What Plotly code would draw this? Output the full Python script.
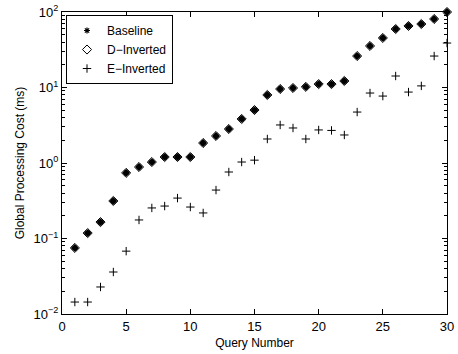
import plotly.graph_objects as go

query = list(range(1, 31))
baseline = [0.075, 0.118, 0.165, 0.314, 0.74, 0.885, 1.03, 1.2, 1.2, 1.2,
            1.84, 2.28, 2.82, 3.83, 5.03, 7.96, 9.55, 9.85, 10.2, 11.1,
            11.1, 12.2, 26.1, 35.5, 45.3, 59.5, 65.3, 69.3, 80.8, 100.0]
d_inverted = [0.075, 0.118, 0.165, 0.314, 0.74, 0.885, 1.03, 1.2, 1.2, 1.2,
              1.84, 2.28, 2.82, 3.83, 5.03, 7.96, 9.55, 9.85, 10.2, 11.1,
              11.1, 12.2, 26.1, 35.5, 45.3, 59.5, 65.3, 69.3, 80.8, 100.0]
e_inverted = [0.0144, 0.0144, 0.0228, 0.036, 0.068, 0.176, 0.254, 0.269, 0.343, 0.261,
              0.218, 0.438, 0.76, 1.03, 1.09, 2.08, 3.19, 2.91, 2.08, 2.74,
              2.7, 2.35, 4.73, 8.45, 7.7, 14.2, 8.7, 10.5, 26.1, 38.8]

ytick_vals = [0.01, 0.1, 1, 10, 100]
ytick_text = ["10<sup>−2</sup>", "10<sup>−1</sup>", "10<sup>0</sup>", "10<sup>1</sup>", "10<sup>2</sup>"]
xtick_vals = [0, 5, 10, 15, 20, 25, 30]
minor_decades = [0.01, 0.1, 1, 10]
minor_digits = [2, 3, 4, 5, 6, 7, 8, 9]
yminor_vals = [d * m for d in minor_decades for m in minor_digits]

fnt = "Liberation Sans, Arial, sans-serif"

fig = go.Figure()
fig.add_trace(go.Scatter(
    x=query, y=baseline, mode="markers", name="Baseline", cliponaxis=False,
    marker=dict(symbol="asterisk", size=5, color="black", line=dict(color="black", width=1.2))))
fig.add_trace(go.Scatter(
    x=query, y=d_inverted, mode="markers", name="D−Inverted", cliponaxis=False,
    marker=dict(symbol="diamond-open", size=7, color="black", line=dict(color="black", width=1))))
fig.add_trace(go.Scatter(
    x=query, y=d_inverted, mode="markers", showlegend=False, hoverinfo="skip", cliponaxis=False,
    marker=dict(symbol="diamond", size=6, color="black", line=dict(width=0))))
fig.add_trace(go.Scatter(
    x=query, y=e_inverted, mode="markers", name="E−Inverted", cliponaxis=False,
    marker=dict(symbol="cross-thin", size=6, color="black", line=dict(color="black", width=1))))

axis_common = dict(showline=True, linecolor="black", linewidth=1, mirror="ticks",
                   ticks="inside", tickcolor="black", ticklen=5, tickwidth=1, showgrid=False, zeroline=False,
                   automargin=False,
                   tickfont=dict(family=fnt, size=13, color="black"))

fig.update_xaxes(range=[0, 30], tickvals=xtick_vals,
                 title=dict(text="Query Number", standoff=6,
                            font=dict(family=fnt, size=12, color="black")),
                 **axis_common)
fig.update_yaxes(type="log", range=[-2, 2], tickvals=ytick_vals, ticktext=ytick_text,
                 minor=dict(ticks="inside", ticklen=3, tickcolor="black", tickwidth=1,
                            tickvals=yminor_vals, showgrid=False),
                 title=dict(text="Global Processing Cost (ms)", standoff=6,
                            font=dict(family=fnt, size=12, color="black")),
                 **axis_common)

fig.update_layout(
    width=458, height=354,
    margin=dict(l=62, r=11, t=12, b=40),
    paper_bgcolor="white", plot_bgcolor="white",
    font=dict(family=fnt, size=12, color="black"),
    showlegend=True,
    legend=dict(x=0.0104, y=0.99, xanchor="left", yanchor="top",
                bgcolor="white", bordercolor="black", borderwidth=1,
                font=dict(family=fnt, size=12, color="black"), tracegroupgap=0,
                itemsizing="trace"),
)

fig.write_html("out.html")
